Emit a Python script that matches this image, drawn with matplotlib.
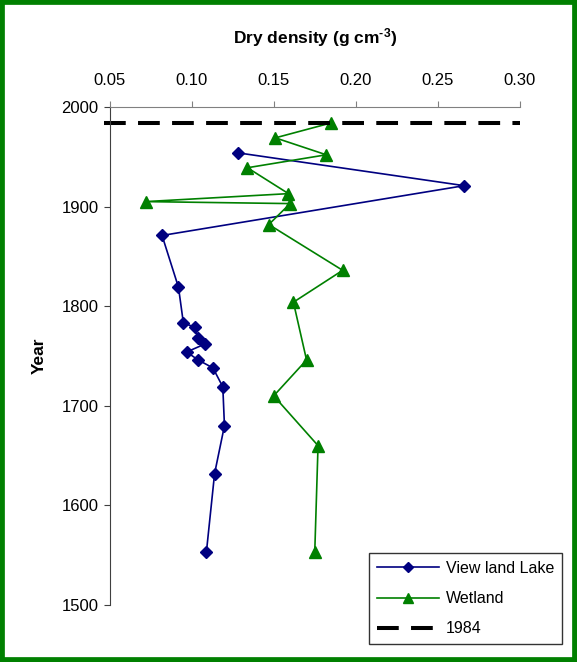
import matplotlib
matplotlib.use("Agg")
import matplotlib.pyplot as plt
from matplotlib.patches import Rectangle

plt.rcParams["font.family"] = ["Liberation Sans", "DejaVu Sans"]
plt.rcParams["mathtext.fontset"] = "custom"
plt.rcParams["mathtext.rm"] = "Liberation Sans:bold"
plt.rcParams["mathtext.bf"] = "Liberation Sans:bold"
plt.rcParams["mathtext.default"] = "bf"

# Viewland Lake cores
lake_density = [0.128, 0.266, 0.082, 0.092, 0.095, 0.102, 0.104, 0.108, 0.097,
                0.104, 0.113, 0.119, 0.120, 0.114, 0.109]
lake_year = [1954, 1921, 1871, 1819, 1783, 1779, 1768, 1762, 1754,
             1746, 1738, 1719, 1680, 1632, 1553]

# Wetland cores
wet_density = [0.185, 0.151, 0.182, 0.134, 0.159, 0.072, 0.160, 0.147,
               0.192, 0.162, 0.170, 0.150, 0.177, 0.175]
wet_year = [1984, 1969, 1952, 1939, 1913, 1905, 1903, 1882,
            1836, 1804, 1746, 1710, 1660, 1553]

marker_year = 1984

fig = plt.figure(figsize=(5.77, 6.62), dpi=100)
ax = fig.add_axes([0.1898, 0.0861, 0.7114, 0.7523])

ax.plot(lake_density, lake_year, color="#000080", lw=1.2, marker="D", ms=6.5,
        label="View land Lake")
ax.plot(wet_density, wet_year, color="#008000", lw=1.2, marker="^", ms=9,
        label="Wetland")
ax.axhline(marker_year, xmin=-0.013, xmax=1, color="black", lw=2.9,
           dashes=(5.4, 3.05), clip_on=False, label=str(marker_year))

ax.set_xlim(0.05, 0.30)
ax.set_ylim(1500, 2000)
ax.set_xticks([0.05, 0.10, 0.15, 0.20, 0.25, 0.30])
ax.set_xticklabels(["0.05", "0.10", "0.15", "0.20", "0.25", "0.30"])
ax.set_yticks(range(1500, 2001, 100))

ax.xaxis.tick_top()
ax.xaxis.set_label_position("top")
ax.spines["right"].set_visible(False)
ax.spines["bottom"].set_visible(False)
ax.spines["top"].set_color("#808080")
ax.spines["left"].set_color("#404040")
ax.tick_params(axis="x", direction="out", length=4, color="#808080",
               labelsize=12, pad=10)
ax.tick_params(axis="y", direction="out", length=4, color="#404040",
               labelsize=12, pad=4)

ax.set_xlabel(r"Dry density (g cm$^{\text{-3}}$)", fontsize=12.5,
              fontweight="bold")
ax.xaxis.set_label_coords(0.5, 1.128)
ax.set_ylabel("Year", fontsize=12.5, fontweight="bold")
ax.yaxis.set_label_coords(-0.153, 0.5)

leg = ax.legend(loc="upper left", bbox_to_anchor=(369 / 577, 1 - 553 / 662),
                bbox_transform=fig.transFigure, borderaxespad=0, fontsize=11.5,
                frameon=True, fancybox=False, edgecolor="black",
                handlelength=3.9, handletextpad=0.4, labelspacing=0.95,
                markerscale=0.75, numpoints=1, borderpad=0.5)
leg.get_frame().set_linewidth(1.0)

fig.patches.append(Rectangle((0, 0), 1, 1, transform=fig.transFigure,
                             fill=False, edgecolor="#008000", lw=7))

fig.savefig("out.png", dpi=100)
